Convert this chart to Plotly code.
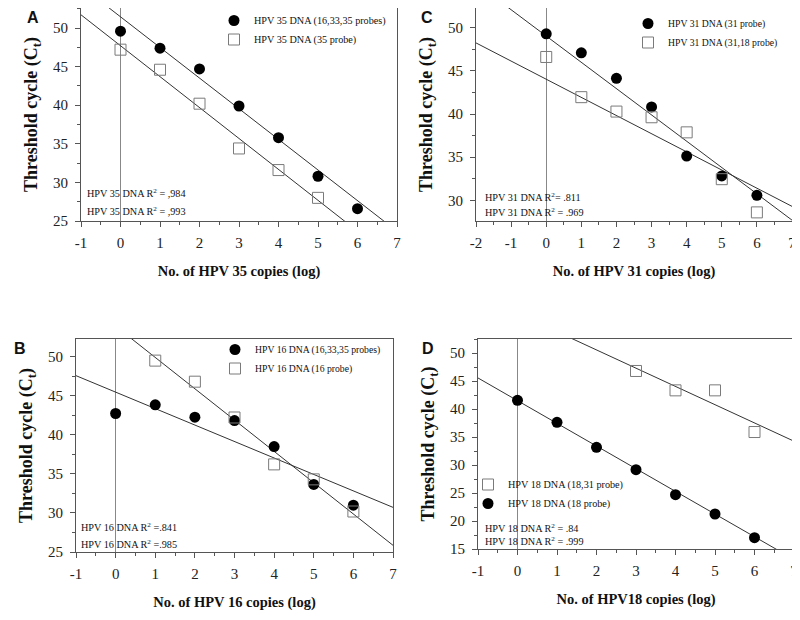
import plotly.graph_objects as go

# ---------------- data ----------------
# Panel A : HPV 35
A_x_circ = [0, 1, 2, 3, 4, 5, 6]
A_circ = [49.6, 47.4, 44.7, 39.9, 35.8, 30.8, 26.6]
A_x_sq = [0, 1, 2, 3, 4, 5]
A_sq = [47.2, 44.6, 40.2, 34.4, 31.6, 28.0]
A_fit_circ = (51.46, -3.97)   # intercept, slope
A_fit_sq = (47.71, -4.006)

# Panel B : HPV 16
B_x_circ = [0, 1, 2, 3, 4, 5, 6]
B_circ = [42.75, 43.87, 42.28, 41.85, 38.51, 33.66, 31.0]
B_x_sq = [1, 2, 3, 4, 5, 6]
B_sq = [49.53, 46.83, 42.24, 36.23, 34.31, 30.19]
B_fit_circ = (45.49, -2.11)
B_fit_sq = (53.95, -4.013)

# Panel C : HPV 31
C_x_circ = [0, 1, 2, 3, 4, 5, 6]
C_circ = [49.3, 47.1, 44.14, 40.83, 35.13, 32.83, 30.58]
C_x_sq = [0, 1, 2, 3, 4, 5, 6]
C_sq = [46.62, 41.96, 40.29, 39.63, 37.88, 32.45, 28.6]
C_fit_circ = (49.05, -3.05)
C_fit_sq = (44.04, -2.106)

# Panel D : HPV 18
D_x_circ = [0, 1, 2, 3, 4, 5, 6]
D_circ = [41.55, 37.62, 33.15, 29.17, 24.7, 21.25, 17.02]
D_x_sq = [3, 4, 5, 6]
D_sq = [46.79, 43.33, 43.33, 35.89]
D_fit_circ = (41.49, -4.05)
D_fit_sq = (57.07, -3.26)

# tick labels
X_TICKS_1 = [-1, 0, 1, 2, 3, 4, 5, 6, 7]
X_TICKS_C = [-2, -1, 0, 1, 2, 3, 4, 5, 6, 7]

# labels
A_names = ["HPV 35 DNA (16,33,35 probes)", "HPV 35 DNA (35 probe)"]
B_names = ["HPV 16 DNA (16,33,35 probes)", "HPV 16 DNA (16 probe)"]
C_names = ["HPV 31 DNA (31 probe)", "HPV 31 DNA (31,18 probe)"]
D_names = ["HPV 18 DNA (18 probe)", "HPV 18 DNA (18,31 probe)"]
A_r2 = ["HPV 35 DNA R<sup>2</sup> = ,984", "HPV 35 DNA R<sup>2</sup> = ,993"]
B_r2 = ["HPV 16 DNA R<sup>2</sup> =.841", "HPV 16 DNA R<sup>2</sup> =.985"]
C_r2 = ["HPV 31 DNA R<sup>2</sup>= .811", "HPV 31 DNA R<sup>2</sup> = .969"]
D_r2 = ["HPV 18 DNA R<sup>2</sup> = .84", "HPV 18 DNA R<sup>2</sup> = .999"]
x_titles = {"A": "No. of HPV 35 copies (log)", "B": "No. of HPV 16 copies (log)",
            "C": "No. of HPV 31 copies (log)", "D": "No. of HPV18 copies (log)"}
y_title = "Threshold cycle (C<sub>t</sub>)"

# ---------------- styling / layout ----------------
WIN_W, WIN_H = 800, 620
OFF = 8                       # page body margin
W, H = WIN_W - OFF, WIN_H - 2 * OFF
SERIF = "Liberation Serif, Times New Roman, serif"
SANS = "Liberation Sans, Arial, sans-serif"
LINE_C = "#333333"
SQ_C = "#7a7a7a"
AX_C = "#555555"


def px(x):
    return (x - OFF) / W


def py(y):
    return 1 - (y - OFF) / H


def clamp(v):
    return min(1.0, max(0.0, v))


panels = {
    "A": dict(i=1, xd=(81, 397), yd=(7, 221), xr=(-1, 7), yr=(25, 52.6),
              ytick0=25, xt=X_TICKS_1),
    "C": dict(i=2, xd=(476, 792), yd=(8, 221), xr=(-2, 7), yr=(27.6, 52.3),
              ytick0=30, xt=X_TICKS_C),
    "B": dict(i=3, xd=(76, 393), yd=(339, 552), xr=(-1, 7), yr=(25, 52.3),
              ytick0=25, xt=X_TICKS_1),
    "D": dict(i=4, xd=(478, 794), yd=(339, 549), xr=(-1, 7), yr=(15, 52.5),
              ytick0=15, xt=X_TICKS_1),
}

data = {
    "A": (A_x_circ, A_circ, A_x_sq, A_sq, A_fit_circ, A_fit_sq, A_names, False),
    "C": (C_x_circ, C_circ, C_x_sq, C_sq, C_fit_circ, C_fit_sq, C_names, False),
    "B": (B_x_circ, B_circ, B_x_sq, B_sq, B_fit_circ, B_fit_sq, B_names, False),
    "D": (D_x_circ, D_circ, D_x_sq, D_sq, D_fit_circ, D_fit_sq, D_names, True),
}

legend_pos = {  # left (px) of legend box, top (px), font size
    "A": (214, 6, 10.2),
    "C": (628, 9, 9.7),
    "B": (215, 335, 9.7),
    "D": (468, 470, 10.2),
}

fig = go.Figure()

for key, p in panels.items():
    i = p["i"]
    xs = "" if i == 1 else str(i)
    xa, ya = "x" + xs, "y" + xs
    xc, yc, xq, yq, fc, fq, names, sq_first = data[key]
    lg = "legend" if i == 1 else "legend" + str(i)
    x0, x1 = p["xr"]
    # fitted lines across the full axis range (clipped by the plot area)
    for (b0, b1) in (fc, fq):
        fig.add_trace(go.Scatter(
            x=[x0, x1], y=[b0 + b1 * x0, b0 + b1 * x1], mode="lines",
            line=dict(color=LINE_C, width=1), showlegend=False,
            hoverinfo="skip", xaxis=xa, yaxis=ya))
    circ = go.Scatter(x=xc, y=yc, mode="markers", name=names[0],
                      marker=dict(symbol="circle", size=11, color="black"),
                      xaxis=xa, yaxis=ya, legend=lg)
    sq = go.Scatter(x=xq, y=yq, mode="markers", name=names[1],
                    marker=dict(symbol="square-open", size=11, color=SQ_C,
                                line=dict(width=1, color=SQ_C)),
                    xaxis=xa, yaxis=ya, legend=lg)
    if sq_first:
        fig.add_trace(sq)
        fig.add_trace(circ)
    else:
        fig.add_trace(circ)
        fig.add_trace(sq)

    axis_common = dict(showline=True, linecolor=AX_C, linewidth=1,
                       mirror=True, showgrid=False, ticks="outside",
                       ticklen=5, tickwidth=1, tickcolor=AX_C,
                       automargin=False, ticklabeloverflow="allow",
                       tickfont=dict(family=SERIF, size=15, color="#222"))
    fig.layout["xaxis" + xs] = dict(
        **axis_common,
        domain=[clamp(px(p["xd"][0])), clamp(px(p["xd"][1]))],
        range=list(p["xr"]),
        anchor=ya, tickmode="array", tickvals=p["xt"],
        ticktext=[str(v) for v in p["xt"]],
        zeroline=True, zerolinecolor="#888888", zerolinewidth=1,
        minor=dict(dtick=0.5, ticks="outside", ticklen=3, tickcolor=AX_C),
        ticklabelstandoff=3,
        title=dict(text=x_titles[key], standoff=15,
                   font=dict(family=SERIF, size=14.5, color="#111",
                             weight="bold")))
    fig.layout["yaxis" + xs] = dict(
        **axis_common,
        domain=[clamp(py(p["yd"][1])), clamp(py(p["yd"][0]))],
        range=list(p["yr"]),
        anchor=xa, dtick=5, tick0=p["ytick0"], zeroline=False,
        minor=dict(dtick=2.5, ticks="outside", ticklen=3, tickcolor=AX_C),
        ticklabelstandoff=4,
        title=dict(text=y_title, standoff=10,
                   font=dict(family=SERIF, size=18, color="#111",
                             weight="bold")))
    lx, ly, lf = legend_pos[key]
    fig.layout[lg] = dict(x=px(lx), y=py(ly), xref="paper", yref="paper",
                          xanchor="left", yanchor="top",
                          bgcolor="rgba(0,0,0,0)", borderwidth=0,
                          font=dict(family=SERIF, size=lf, color="#111"),
                          tracegroupgap=0, itemwidth=30)

# R^2 annotations
r2_pos = {
    "A": (A_r2, 85, (193, 211)),
    "C": (C_r2, 483, (197, 212)),
    "B": (B_r2, 79, (527, 544)),
    "D": (D_r2, 483, (528, 541)),
}
for key, (texts, x, ys) in r2_pos.items():
    for t, yy in zip(texts, ys):
        fig.add_annotation(text=t, x=px(x), y=py(yy), xref="paper",
                           yref="paper", xanchor="left", yanchor="middle",
                           showarrow=False,
                           font=dict(family=SERIF, size=10.2, color="#111"))

# panel letters
letters = {"A": (33, 17), "C": (427, 17), "B": (20, 348), "D": (428, 348)}
for k, (x, y) in letters.items():
    fig.add_annotation(text="<b>%s</b>" % k, x=px(x), y=py(y), xref="paper",
                       yref="paper", xanchor="center", yanchor="middle",
                       showarrow=False,
                       font=dict(family=SANS, size=16, color="#111"))

fig.update_layout(width=W, height=H,
                  margin=dict(l=0, r=0, t=0, b=0, autoexpand=False),
                  paper_bgcolor="white", plot_bgcolor="white",
                  showlegend=True)

fig.write_html("out.html")
